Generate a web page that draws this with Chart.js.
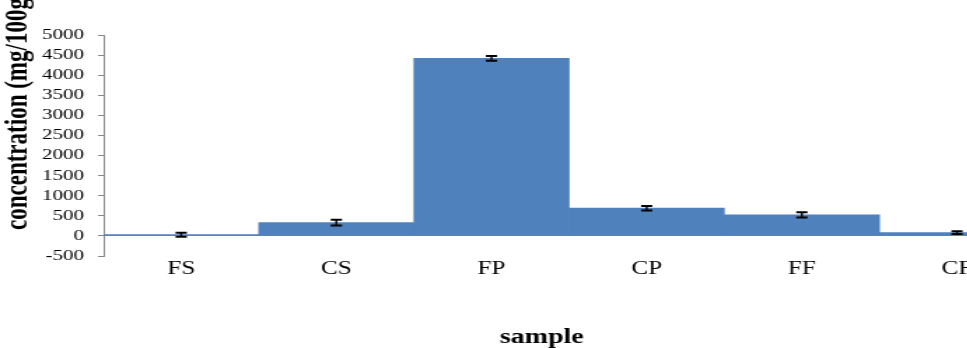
<!DOCTYPE html>
<html lang="en">
<head>
<meta charset="UTF-8">
<title>Concentration by sample</title>
<script src="https://cdn.jsdelivr.net/npm/chart.js"></script>
<style>
    body { margin: 0; overflow: hidden; background: #fff; width: 967px; height: 348px; }
    /* the reference picture is stretched sideways, so the whole canvas is too */
    #wrap { transform: scaleX(1.4); transform-origin: 0 0; width: 742px; height: 348px; }
</style>
</head>
<body>
<div id="wrap"><canvas id="chart" width="742" height="348"></canvas></div>
<script>
const samples = ['FS', 'CS', 'FP', 'CP', 'FF', 'CF'];
const concentration = [30, 330, 4420, 690, 525, 80];
const errors = [50, 70, 60, 55, 65, 35];
const yMin = -500, yMax = 5000, yStep = 500;
const yTitle = 'concentration (mg/100g)';
const xTitle = 'sample';

const axisGray = '#868686';
const serif = '"Liberation Serif", "Times New Roman", serif';

// error bars drawn through the y scale
const errorBars = {
    id: 'errorBars',
    afterDatasetsDraw(chart) {
        const ctx = chart.ctx;
        const y = chart.scales.y;
        const meta = chart.getDatasetMeta(0);
        ctx.save();
        ctx.strokeStyle = '#000';
        meta.data.forEach((bar, i) => {
            const top = y.getPixelForValue(concentration[i] + errors[i]);
            const bot = y.getPixelForValue(concentration[i] - errors[i]);
            ctx.lineWidth = 1.4;
            ctx.beginPath();
            ctx.moveTo(bar.x, top);
            ctx.lineTo(bar.x, bot);
            ctx.stroke();
            ctx.lineWidth = 2;
            ctx.beginPath();
            ctx.moveTo(bar.x - 4, top);
            ctx.lineTo(bar.x + 4, top);
            ctx.moveTo(bar.x - 4, bot);
            ctx.lineTo(bar.x + 4, bot);
            ctx.stroke();
        });
        ctx.restore();
    }
};

// axis titles sit off-centre in the reference, so place them by hand
const axisTitles = {
    id: 'axisTitles',
    afterDraw(chart) {
        const ctx = chart.ctx;
        ctx.save();
        ctx.fillStyle = '#000';
        ctx.font = 'bold 20px ' + serif;
        ctx.textAlign = 'center';
        ctx.textBaseline = 'alphabetic';
        ctx.fillText(xTitle, 387, 343);

        ctx.translate(13, 230);
        ctx.rotate(-Math.PI / 2);
        ctx.font = 'bold 23px ' + serif;
        ctx.textAlign = 'left';
        ctx.textBaseline = 'middle';
        ctx.fillText(yTitle, 0, 0);
        ctx.restore();
    }
};

new Chart(document.getElementById('chart'), {
    type: 'bar',
    data: {
        labels: samples,
        datasets: [{
            data: concentration,
            backgroundColor: '#4F81BD',
            borderWidth: 0,
            barPercentage: 1,
            categoryPercentage: 1
        }]
    },
    options: {
        responsive: false,
        animation: false,
        devicePixelRatio: 1,
        layout: { padding: { top: 35, right: 3, left: 0, bottom: 0 } },
        plugins: {
            legend: { display: false },
            tooltip: { enabled: false }
        },
        scales: {
            x: {
                grid: { display: false },
                border: { display: false },
                ticks: {
                    color: '#000',
                    font: { family: serif, size: 18 },
                    padding: -6,
                    maxRotation: 0
                },
                afterFit(scale) { scale.height = 92; }
            },
            y: {
                min: yMin,
                max: yMax,
                grid: {
                    color: c => (c.tick && c.tick.value === 0) ? axisGray : 'rgba(0,0,0,0)',
                    tickColor: axisGray,
                    tickLength: 4
                },
                border: { display: true, color: axisGray },
                ticks: {
                    stepSize: yStep,
                    autoSkip: false,
                    color: '#000',
                    font: { family: serif, size: 15 },
                    padding: 10,
                    callback: v => String(v)
                },
                afterFit(scale) { scale.width = 74; }
            }
        }
    },
    plugins: [errorBars, axisTitles]
});
</script>
</body>
</html>
